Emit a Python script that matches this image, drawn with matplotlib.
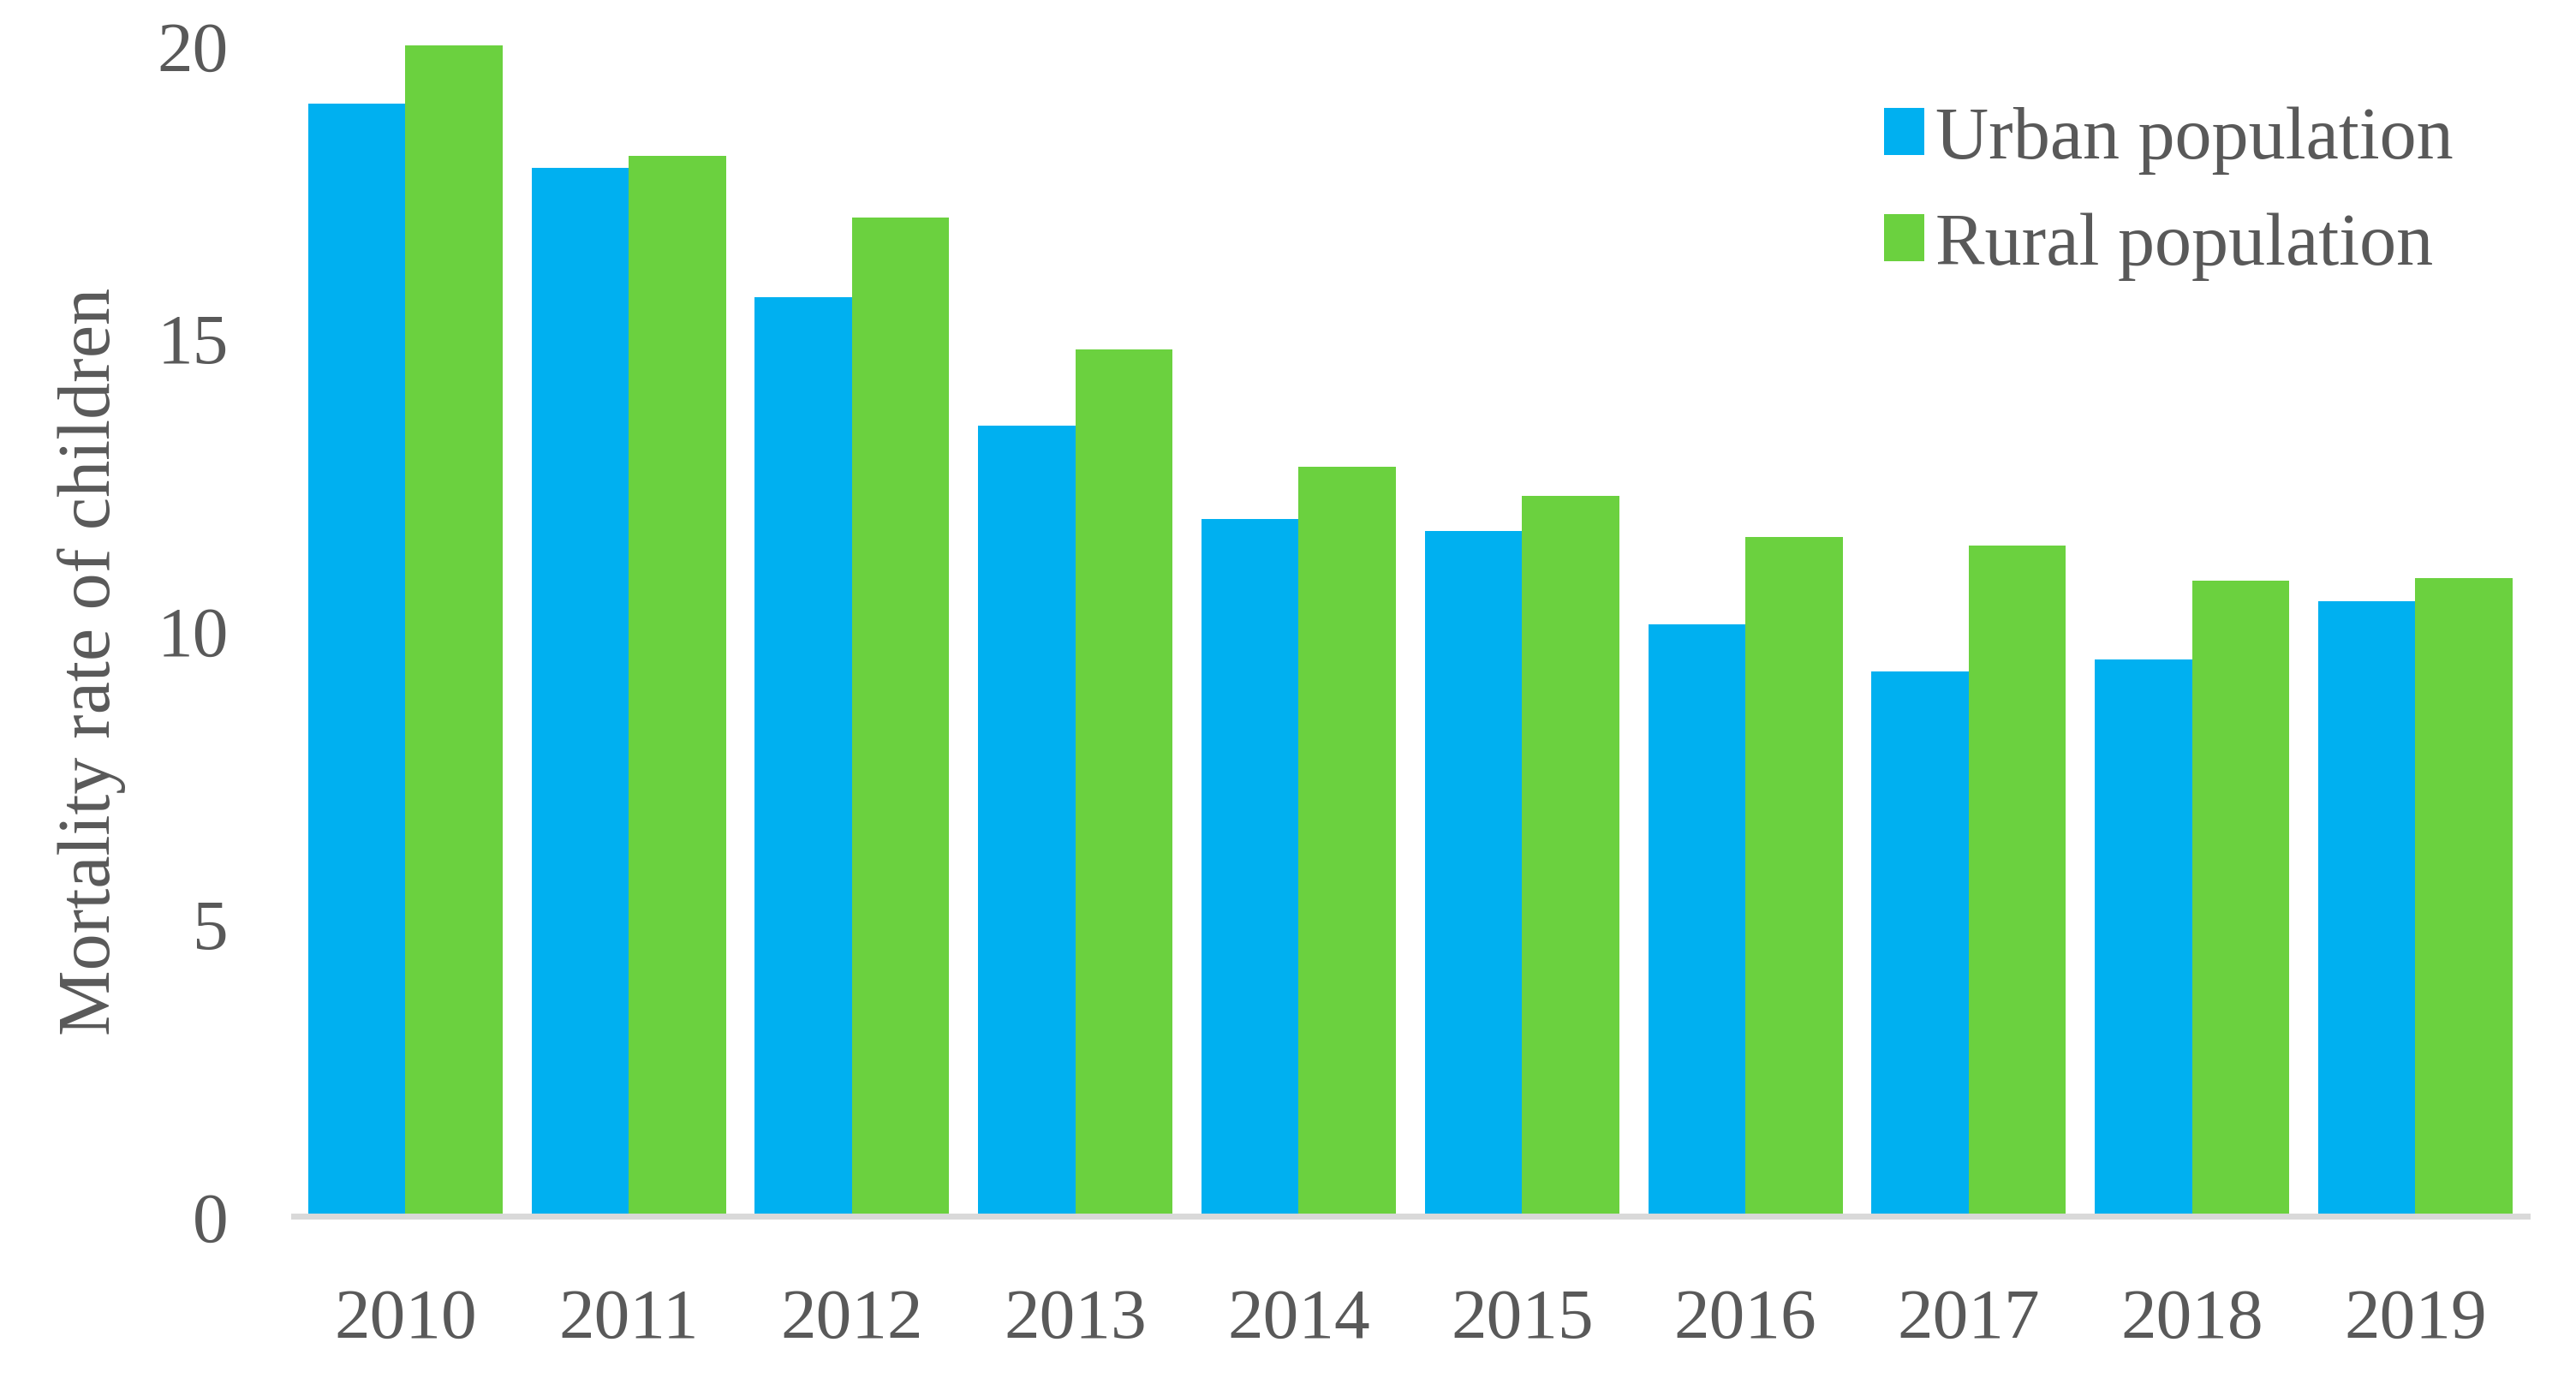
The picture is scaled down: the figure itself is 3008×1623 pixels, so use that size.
import matplotlib
matplotlib.use('Agg')
import matplotlib.pyplot as plt
import numpy as np

years = ['2010', '2011', '2012', '2013', '2014', '2015', '2016', '2017', '2018', '2019']
urban = [19.0, 17.9, 15.7, 13.5, 11.9, 11.7, 10.1, 9.3, 9.5, 10.5]
rural = [20.0, 18.1, 17.05, 14.8, 12.8, 12.3, 11.6, 11.45, 10.85, 10.9]
series_names = ['Urban population', 'Rural population']
colors = ['#00b0f0', '#6bd13f']

plt.rcParams['font.family'] = ['Liberation Serif', 'DejaVu Serif']
text_color = '#595959'

fig = plt.figure(figsize=(30.08, 16.24), dpi=100)
ax = fig.add_axes([0.114, 0.125, 0.867, 0.842])

x = np.arange(len(years))
w = 0.435
ax.bar(x - w / 2, urban, w, color=colors[0], label=series_names[0])
ax.bar(x + w / 2, rural, w, color=colors[1], label=series_names[1])

ax.set_xlim(-0.5, len(years) - 0.5)
ax.set_ylim(0, 20)
ax.set_yticks([0, 5, 10, 15, 20])
ax.set_xticks(x)
ax.set_xticklabels(years)

for s in ['top', 'right', 'left']:
    ax.spines[s].set_visible(False)
ax.spines['bottom'].set_color('#d9d9d9')
ax.spines['bottom'].set_linewidth(5)
ax.tick_params(axis='both', length=0, labelsize=60, colors=text_color)
ax.tick_params(axis='x', pad=60)
ax.tick_params(axis='y', pad=55)

ax.set_ylabel('Mortality rate of children', fontsize=62, color=text_color,
              labelpad=26, y=0.474)

ax.legend(loc='upper left', bbox_to_anchor=(0.717, 0.95), bbox_transform=fig.transFigure,
          frameon=False, fontsize=62, handlelength=0.55, handleheight=0.6,
          handletextpad=0.15, labelspacing=0.52, borderpad=0, labelcolor=text_color)

fig.savefig('out.png', dpi=100)
